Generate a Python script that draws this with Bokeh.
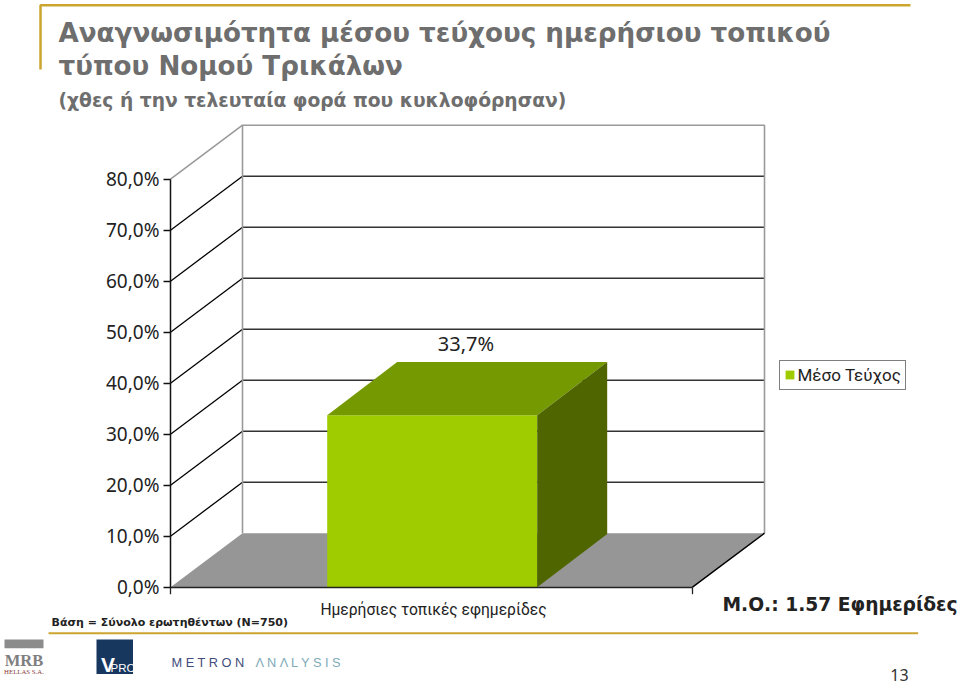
from bokeh.plotting import figure
from bokeh.embed import file_html
from bokeh.resources import INLINE
from bokeh.models import FixedTicker, Legend, LegendItem, Range1d
from bokeh.core.properties import value

TITLE_LINES = ["Αναγνωσιμότητα μέσου τεύχους ημερήσιου τοπικού", "τύπου Νομού Τρικάλων"]
SUBTITLE = "(χθες ή την τελευταία φορά που κυκλοφόρησαν)"
CATEGORY = "Ημερήσιες τοπικές εφημερίδες"
SERIES = "Μέσο Τεύχος"
BAR_VALUE = 33.7
BAR_LABEL = "33,7%"
TICKS = [0, 10, 20, 30, 40, 50, 60, 70, 80]
TICK_LABELS = ["0,0%", "10,0%", "20,0%", "30,0%", "40,0%", "50,0%", "60,0%", "70,0%", "80,0%"]
BASE_NOTE = "Βάση = Σύνολο ερωτηθέντων (N=750)"
MEAN_NOTE = "Μ.Ο.: 1.57 Εφημερίδες"
PAGE = "13"

# screen geometry helpers
PX_PER_PCT = 5.1
Y0 = 586.7
def Y(py):
    return (Y0 - py) / PX_PER_PCT

W, H = 959, 681
XL, XR = 170, 692
DX, DY = 72, 54 / PX_PER_PCT
BL, BR = 326.7, 536.7
BDX, BDY = 70, 53.3 / PX_PER_PCT
TOP = 80

GOLD = "#CBA52F"
GREY = "#9A9A9A"

p = figure(width=W, height=H, output_backend="svg", toolbar_location=None,
           x_range=Range1d(0, W), y_range=Range1d(Y(H), Y(0)),
           min_border=0, outline_line_color=None, background_fill_color="white")
p.grid.visible = False

# floor
p.patch([XL, XL + DX, XR + DX, XR], [0, DY, DY, 0], fill_color="#969696", line_color=None)

# grid
grid_ticks = TICKS[1:-1]
p.multi_line([[XL + DX, XR + DX] for _ in grid_ticks], [[t + DY, t + DY] for t in grid_ticks],
             line_color="#333333", line_width=1.6)
p.multi_line([[XL, XL + DX] for _ in grid_ticks], [[t, t + DY] for t in grid_ticks],
             line_color="#000000", line_width=1.3)

# walls
p.line([XL, XL + DX, XR + DX, XR + DX], [TOP, TOP + DY, TOP + DY, DY], line_color=GREY, line_width=1.6)
p.line([XL + DX, XL + DX], [DY, TOP + DY], line_color=GREY, line_width=1.6)
p.line([XR, XR + DX], [0, DY], line_color="#000000", line_width=1.5)

# bar
front = p.quad(left=[BL], right=[BR], bottom=[0], top=[BAR_VALUE], fill_color="#9FCC00", line_color=None)
p.patch([BL, BL + BDX, BR + BDX, BR], [BAR_VALUE, BAR_VALUE + BDY, BAR_VALUE + BDY, BAR_VALUE],
        fill_color="#759900", line_color=None)
p.patch([BR, BR + BDX, BR + BDX, BR], [0, BDY, BAR_VALUE + BDY, BAR_VALUE],
        fill_color="#4F6600", line_color=None)

# axes placed on the chart itself
ya = p.yaxis[0]
ya.fixed_location = XL
ya.bounds = (0, TOP)
ya.ticker = FixedTicker(ticks=TICKS)
ya.major_label_overrides = {t: s for t, s in zip(TICKS, TICK_LABELS)}
ya.major_label_text_font = "Noto Sans"
ya.major_label_text_font_size = "19px"
ya.major_label_text_color = "#222222"
ya.major_label_standoff = 4
ya.major_tick_out = 7
ya.major_tick_in = 0
ya.minor_tick_out = 0
ya.minor_tick_in = 0
ya.axis_line_color = "#111111"
ya.axis_line_width = 1.5
ya.major_tick_line_width = 1.3
ya.major_tick_line_color = "#111111"

xa = p.xaxis[0]
xa.fixed_location = 0
xa.bounds = (XL, XR)
xa.ticker = FixedTicker(ticks=[XL, XR])
xa.major_label_overrides = {XL: "", XR: ""}
xa.major_tick_out = 0
xa.major_tick_in = 0
xa.minor_tick_out = 0
xa.minor_tick_in = 0
xa.axis_line_color = "#222222"
xa.axis_line_width = 1.6
p.segment([XL, XR], [0, 0], [XL, XR], [Y(Y0 + 7), Y(Y0 + 7)], line_color="#222222", line_width=1.3)

def txt(x, py, s, font, size, color, style="normal", align="left"):
    p.text([x], [Y(py)], text=[s], text_font=value(font), text_font_size=size,
           text_font_style=style, text_color=color, text_align=align, text_baseline="middle")

# headings
txt(58, 32, TITLE_LINES[0], "DejaVu Sans", "26.2px", "#6E6E6E", "bold")
txt(58, 65, TITLE_LINES[1], "DejaVu Sans", "26.2px", "#6E6E6E", "bold")
txt(58, 99.5, SUBTITLE, "DejaVu Sans", "18.7px", "#6E6E6E", "bold")

# chart texts
txt(465.5, 343, BAR_LABEL, "Noto Sans", "20px", "#222222", align="center")
txt(433, 609, CATEGORY, "Roboto", "15.6px", "#222222", align="center")
txt(51, 622, BASE_NOTE, "DejaVu Sans", "11px", "#222222", "bold")
txt(722, 604, MEAN_NOTE, "DejaVu Sans", "18.7px", "#222222", "bold")
txt(899, 674, PAGE, "Noto Sans", "16px", "#333333", align="center")

# frame rules
p.line([40, 40, 910], [Y(69), Y(4.7), Y(4.7)], line_color=GOLD, line_width=2.5)
p.line([48, 917.7], [Y(632.7), Y(632.7)], line_color=GOLD, line_width=2)

# logos
p.quad(left=[4], right=[43], top=[Y(639)], bottom=[Y(647.7)], fill_color="#8C8C8C", line_color=None)
txt(23.5, 660, "MRB", "Liberation Serif", "16.5px", "#7F7F7F", "bold", align="center")
txt(23.5, 670.7, "HELLAS S.A.", "Liberation Serif", "6.8px", "#8A3A3A", align="center")
p.quad(left=[96], right=[132.5], top=[Y(639)], bottom=[Y(673.5)], fill_color="#17375E", line_color=None)
txt(100.5, 663.5, "V", "Liberation Sans", "21px", "#FFFFFF", "bold")
txt(110, 667, "PRC", "Liberation Sans", "11.5px", "#FFFFFF")
txt(171, 662, "M E T R O N", "Liberation Sans", "12.8px", "#3F4D7A")
txt(255, 662, "Λ N Λ L Y S I S", "Liberation Sans", "12.8px", "#7FAAB8")

# legend
legend = Legend(items=[LegendItem(label=SERIES, renderers=[front])],
                location=(778.5, H - 389.5), orientation="vertical",
                label_text_font="Roboto", label_text_font_size="17px", label_text_color="#222222",
                glyph_width=11, glyph_height=11, label_standoff=3, padding=4, margin=0, spacing=0,
                border_line_color="#000000", border_line_width=1.5, background_fill_color="white",
                background_fill_alpha=1)
p.add_layout(legend, "center")

open("out.html", "w").write(file_html(p, INLINE))
